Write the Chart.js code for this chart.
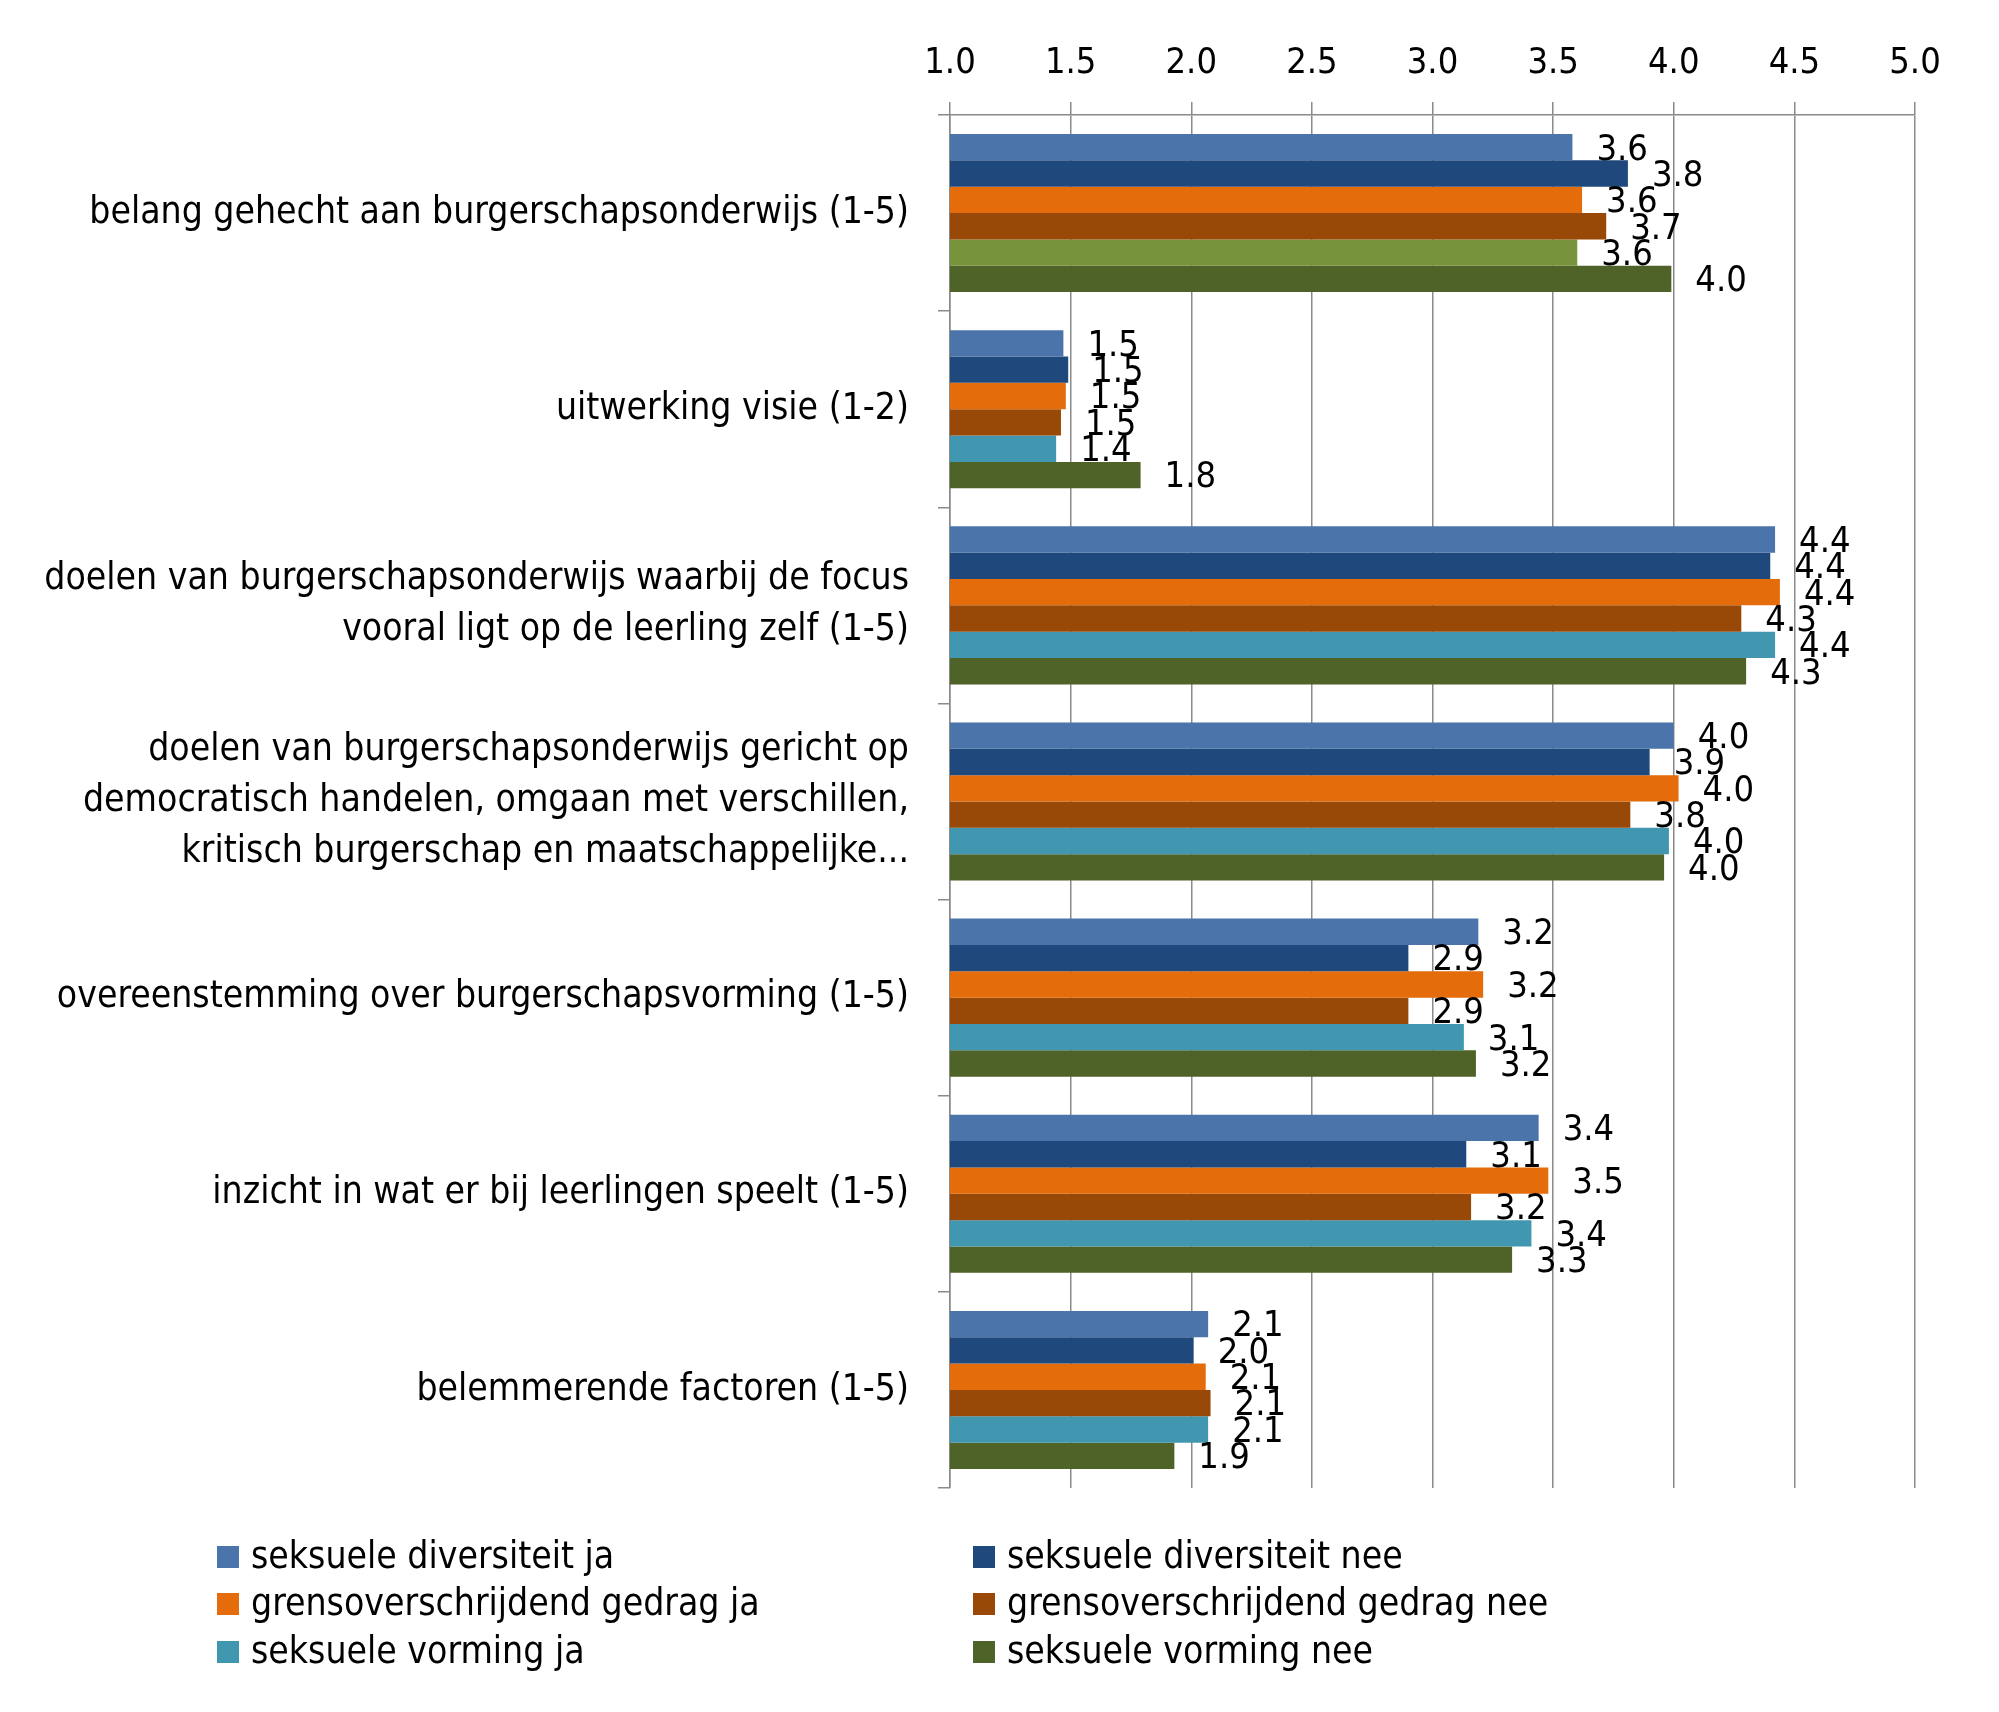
<!DOCTYPE html>
<html>
<head>
<meta charset="utf-8">
<script src="https://cdn.jsdelivr.net/npm/chart.js@4"></script>
<style>
  body { margin: 0; background: #fff; }
  canvas { display: block; }
</style>
</head>
<body>
<canvas id="chart" width="1999" height="1712"></canvas>
<script>
const categories = [
  "belang gehecht aan burgerschapsonderwijs (1-5)",
  "uitwerking visie (1-2)",
  ["doelen van burgerschapsonderwijs waarbij de focus", "vooral ligt op de leerling zelf (1-5)"],
  ["doelen van burgerschapsonderwijs gericht op", "democratisch handelen, omgaan met verschillen,", "kritisch burgerschap en maatschappelijke..."],
  "overeenstemming over burgerschapsvorming (1-5)",
  "inzicht in wat er bij leerlingen speelt (1-5)",
  "belemmerende factoren (1-5)"
];

const seriesNames = [
  "seksuele diversiteit ja",
  "seksuele diversiteit nee",
  "grensoverschrijdend gedrag ja",
  "grensoverschrijdend gedrag nee",
  "seksuele vorming ja",
  "seksuele vorming nee"
];

const divJa = [3.58, 1.47, 4.42, 4.00, 3.19, 3.44, 2.07];
const divNee = [3.81, 1.49, 4.40, 3.90, 2.90, 3.14, 2.01];
const grensJa = [3.62, 1.48, 4.44, 4.02, 3.21, 3.48, 2.06];
const grensNee = [3.72, 1.46, 4.28, 3.82, 2.90, 3.16, 2.08];
const vormJa = [3.60, 1.44, 4.42, 3.98, 3.13, 3.41, 2.07];
const vormNee = [3.99, 1.79, 4.30, 3.96, 3.18, 3.33, 1.93];

const xTicks = [1.0, 1.5, 2.0, 2.5, 3.0, 3.5, 4.0, 4.5, 5.0];

const FONT = "'DejaVu Sans Condensed', Roboto, sans-serif";
const GRID = "#8a8a8a";

// first bar of "seksuele vorming ja" is green in the original
const vormJaColors = vormJa.map((v, i) => i === 0 ? "#77933c" : "#4197b0");

const valueLabels = {
  id: "valueLabels",
  afterDatasetsDraw(chart) {
    const ctx = chart.ctx;
    ctx.save();
    ctx.font = "36px " + FONT;
    ctx.fillStyle = "#000";
    ctx.textAlign = "left";
    ctx.textBaseline = "middle";
    chart.data.datasets.forEach((ds, di) => {
      chart.getDatasetMeta(di).data.forEach((bar, i) => {
        ctx.fillText(ds.data[i].toFixed(1), bar.x + 24, bar.y + 3);
      });
    });
    ctx.restore();
  }
};

const legendGrid = {
  id: "legendGrid",
  afterDraw(chart) {
    const ctx = chart.ctx;
    const colX = [217, 973];
    const rowY = [1557, 1604, 1652];
    ctx.save();
    ctx.font = "37px " + FONT;
    ctx.textAlign = "left";
    ctx.textBaseline = "middle";
    chart.data.datasets.forEach((ds, i) => {
      const x = colX[i % 2];
      const y = rowY[Math.floor(i / 2)];
      ctx.fillStyle = ds.legendColor;
      ctx.fillRect(x, y - 11, 22, 22);
      ctx.fillStyle = "#000";
      ctx.fillText(ds.label, x + 34, y + 1);
    });
    ctx.restore();
  }
};

new Chart(document.getElementById("chart").getContext("2d"), {
  type: "bar",
  data: {
    labels: categories,
    datasets: [
      { label: seriesNames[0], data: divJa, backgroundColor: "#4a74aa", legendColor: "#4a74aa" },
      { label: seriesNames[1], data: divNee, backgroundColor: "#1f497d", legendColor: "#1f497d" },
      { label: seriesNames[2], data: grensJa, backgroundColor: "#e46c0a", legendColor: "#e46c0a" },
      { label: seriesNames[3], data: grensNee, backgroundColor: "#984807", legendColor: "#984807" },
      { label: seriesNames[4], data: vormJa, backgroundColor: vormJaColors, legendColor: "#4197b0" },
      { label: seriesNames[5], data: vormNee, backgroundColor: "#4f6228", legendColor: "#4f6228" }
    ]
  },
  options: {
    indexAxis: "y",
    responsive: false,
    devicePixelRatio: 1,
    animation: false,
    categoryPercentage: 0.806,
    barPercentage: 1.0,
    layout: { padding: { left: 0, right: 84, top: 0, bottom: 224 } },
    plugins: {
      legend: { display: false },
      tooltip: { enabled: false }
    },
    scales: {
      x: {
        position: "top",
        min: 1,
        max: 5,
        afterBuildTicks(scale) {
          scale.ticks = xTicks.map(v => ({ value: v }));
        },
        afterFit(scale) { scale.height = 115; },
        ticks: {
          callback: v => Number(v).toFixed(1),
          font: { family: FONT, size: 36 },
          color: "#000",
          padding: 17
        },
        grid: { color: GRID, lineWidth: 1.5, tickLength: 13 },
        border: { color: GRID, width: 1.5 }
      },
      y: {
        afterFit(scale) { scale.width = 950; },
        ticks: {
          font: { family: FONT, size: 37, lineHeight: 1.38 },
          color: "#000",
          padding: 29
        },
        grid: { drawOnChartArea: false, color: GRID, lineWidth: 1.5, tickLength: 12 },
        border: { color: GRID, width: 1.5 }
      }
    }
  },
  plugins: [valueLabels, legendGrid]
});
</script>
</body>
</html>
